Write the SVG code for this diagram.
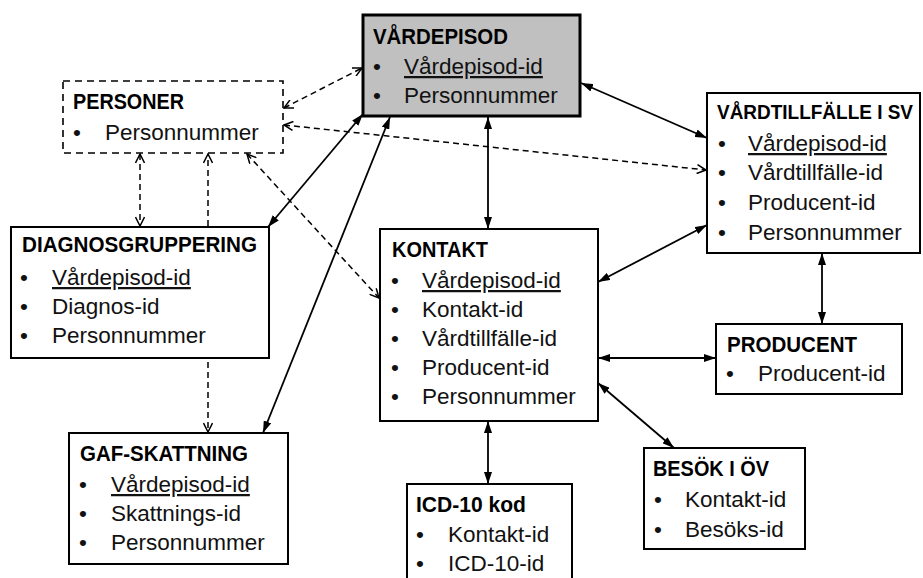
<svg xmlns="http://www.w3.org/2000/svg" width="923" height="578" viewBox="0 0 923 578">
<defs>
<marker id="fa" viewBox="0 0 12 8" refX="12" refY="4" markerWidth="12" markerHeight="8" markerUnits="userSpaceOnUse" orient="auto-start-reverse"><path d="M0,0 L12,4 L0,8 z" fill="#000"/></marker>
<marker id="oa" viewBox="0 0 11 10" refX="10" refY="5" markerWidth="11" markerHeight="10" markerUnits="userSpaceOnUse" orient="auto-start-reverse"><path d="M1,0.5 L10,5 L1,9.5" fill="none" stroke="#000" stroke-width="1.5"/></marker>
</defs>
<style>
.box{fill:#fff;stroke:#000;stroke-width:2}
.dbox{fill:#fff;stroke:#000;stroke-width:1.6;stroke-dasharray:7 5}
.t{font-family:"Liberation Sans",Arial,sans-serif;font-size:22px;font-weight:bold;fill:#000}
.b{font-family:"Liberation Sans",Arial,sans-serif;font-size:22.5px;fill:#111}
.u{text-decoration:underline}
.sl{fill:none;stroke:#000;stroke-width:1.8}
.dl{fill:none;stroke:#000;stroke-width:1.5;stroke-dasharray:6 4}
</style>
<rect width="923" height="578" fill="#fff"/>

<g id="personer">
<rect class="dbox" x="63" y="81" width="220" height="72"/>
<text class="t" x="73" y="109" textLength="111" lengthAdjust="spacingAndGlyphs">PERSONER</text>
<text class="b" x="73" y="140">•</text><text class="b" x="105" y="140">Personnummer</text>
</g>

<g id="vardepisod">
<rect x="363" y="15" width="217" height="101" fill="#c0c0c0" stroke="#000" stroke-width="3"/>
<text class="t" x="373" y="44" textLength="135" lengthAdjust="spacingAndGlyphs">VÅRDEPISOD</text>
<text class="b" x="373" y="74">•</text><text class="b u" x="404" y="74">Vårdepisod-id</text>
<text class="b" x="373" y="103">•</text><text class="b" x="404" y="103">Personnummer</text>
</g>

<g id="vardtillfalle">
<rect class="box" x="707" y="93" width="213" height="160"/>
<text class="t" x="717" y="119" style="font-size:19.5px" textLength="196" lengthAdjust="spacingAndGlyphs">VÅRDTILLFÄLLE I SV</text>
<text class="b" x="718" y="151">•</text><text class="b u" x="748" y="151">Vårdepisod-id</text>
<text class="b" x="718" y="180">•</text><text class="b" x="748" y="180">Vårdtillfälle-id</text>
<text class="b" x="718" y="210">•</text><text class="b" x="748" y="210">Producent-id</text>
<text class="b" x="718" y="240">•</text><text class="b" x="748" y="240">Personnummer</text>
</g>

<g id="kontakt">
<rect class="box" x="380" y="229" width="218" height="192"/>
<text class="t" x="392" y="257" textLength="96" lengthAdjust="spacingAndGlyphs">KONTAKT</text>
<text class="b" x="391" y="288">•</text><text class="b u" x="422" y="288">Vårdepisod-id</text>
<text class="b" x="391" y="317">•</text><text class="b" x="422" y="317">Kontakt-id</text>
<text class="b" x="391" y="346">•</text><text class="b" x="422" y="346">Vårdtillfälle-id</text>
<text class="b" x="391" y="375">•</text><text class="b" x="422" y="375">Producent-id</text>
<text class="b" x="391" y="404">•</text><text class="b" x="422" y="404">Personnummer</text>
</g>

<g id="diagnosgruppering">
<rect class="box" x="11" y="227" width="258" height="131"/>
<text class="t" x="22" y="252" textLength="235" lengthAdjust="spacingAndGlyphs">DIAGNOSGRUPPERING</text>
<text class="b" x="20" y="285">•</text><text class="b u" x="52" y="285">Vårdepisod-id</text>
<text class="b" x="20" y="314">•</text><text class="b" x="52" y="314">Diagnos-id</text>
<text class="b" x="20" y="343">•</text><text class="b" x="52" y="343">Personnummer</text>
</g>

<g id="gaf">
<rect class="box" x="69" y="433" width="219" height="131"/>
<text class="t" x="80" y="461" textLength="168" lengthAdjust="spacingAndGlyphs">GAF-SKATTNING</text>
<text class="b" x="79" y="492">•</text><text class="b u" x="111" y="492">Vårdepisod-id</text>
<text class="b" x="79" y="521">•</text><text class="b" x="111" y="521">Skattnings-id</text>
<text class="b" x="79" y="550">•</text><text class="b" x="111" y="550">Personnummer</text>
</g>

<g id="producent">
<rect class="box" x="716" y="324" width="186" height="70"/>
<text class="t" x="727" y="352" textLength="130" lengthAdjust="spacingAndGlyphs">PRODUCENT</text>
<text class="b" x="726" y="381">•</text><text class="b" x="758" y="381">Producent-id</text>
</g>

<g id="icd10">
<rect class="box" x="407" y="484" width="165" height="120"/>
<text class="t" x="416" y="512" textLength="110" lengthAdjust="spacingAndGlyphs">ICD-10 kod</text>
<text class="b" x="416" y="542">•</text><text class="b" x="448" y="542">Kontakt-id</text>
<text class="b" x="416" y="571">•</text><text class="b" x="448" y="571">ICD-10-id</text>
</g>

<g id="besok">
<rect class="box" x="644" y="448" width="161" height="101"/>
<text class="t" x="653" y="476" textLength="116" lengthAdjust="spacingAndGlyphs">BESÖK I ÖV</text>
<text class="b" x="654" y="507">•</text><text class="b" x="685" y="507">Kontakt-id</text>
<text class="b" x="654" y="537">•</text><text class="b" x="685" y="537">Besöks-id</text>
</g>

<g id="connectors">
<path class="sl" d="M581,83 L707,138" marker-start="url(#fa)" marker-end="url(#fa)"/>
<path class="sl" d="M488,117 L488,229" marker-start="url(#fa)" marker-end="url(#fa)"/>
<path class="sl" d="M363,114 L268,227" marker-start="url(#fa)" marker-end="url(#fa)"/>
<path class="sl" d="M390,117 L263,433" marker-start="url(#fa)" marker-end="url(#fa)"/>
<path class="sl" d="M598,282 L707,225" marker-start="url(#fa)" marker-end="url(#fa)"/>
<path class="sl" d="M598,358 L716,358" marker-start="url(#fa)" marker-end="url(#fa)"/>
<path class="sl" d="M598,383 L674,448" marker-start="url(#fa)" marker-end="url(#fa)"/>
<path class="sl" d="M488,421 L488,484" marker-start="url(#fa)" marker-end="url(#fa)"/>
<path class="sl" d="M822,253 L822,324" marker-start="url(#fa)" marker-end="url(#fa)"/>
<path class="dl" d="M284,108 L362,68" marker-start="url(#oa)" marker-end="url(#oa)"/>
<path class="dl" d="M284,125 L706,170" marker-start="url(#oa)" marker-end="url(#oa)"/>
<path class="dl" d="M140,154 L140,226" marker-start="url(#oa)" marker-end="url(#oa)"/>
<path class="dl" d="M208,226 L208,154" marker-end="url(#oa)"/>
<path class="dl" d="M247,154 L379,298" marker-start="url(#oa)" marker-end="url(#oa)"/>
<path class="dl" d="M208,362 L208,432" marker-end="url(#oa)"/>
</g>
</svg>
